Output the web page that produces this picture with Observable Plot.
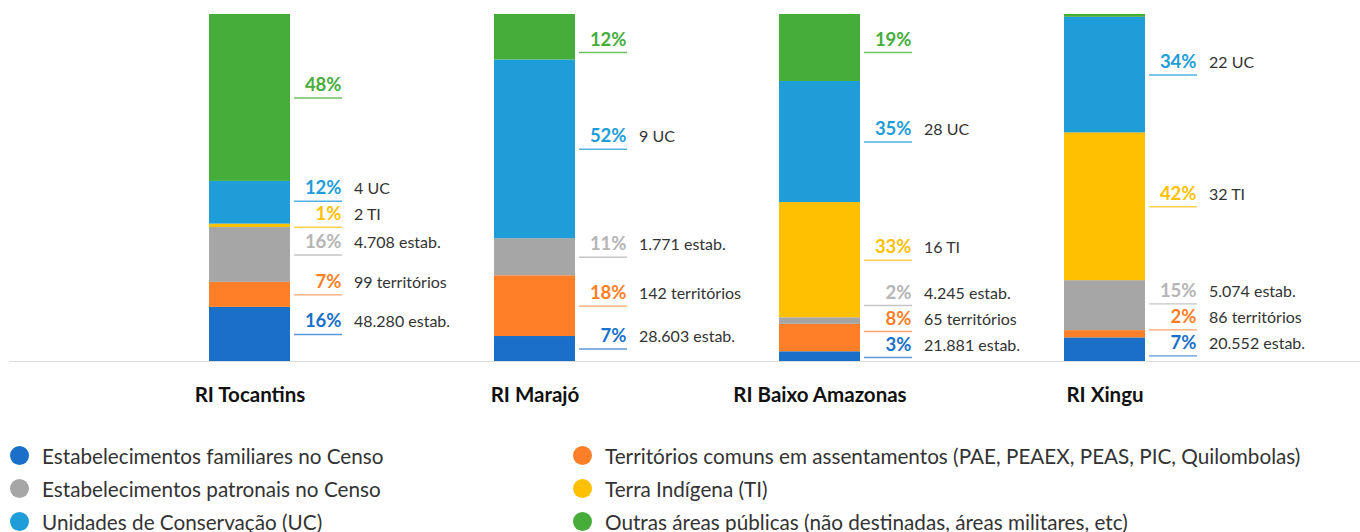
<!DOCTYPE html>
<html>
<head>
<meta charset="utf-8">
<script src="https://cdn.jsdelivr.net/npm/d3@7"></script>
<script src="https://cdn.jsdelivr.net/npm/@observablehq/plot@0.6"></script>
<style>
  body { margin: 0; background: #fff; font-family: Lato, "Noto Sans", sans-serif; }
  #chart svg { display: block; }
  #chart g[aria-label="x-axis tick label"] text { font-weight: 700; }
  .legend { position: relative; height: 112px; margin-top: 19px; }
  .col { position: absolute; top: 0; }
  .item { display: flex; align-items: center; height: 33px; font-size: 20.7px; color: #333; white-space: nowrap; }
  .sw { width: 19px; height: 19px; border-radius: 50%; margin-right: 13px; flex: none; }
</style>
</head>
<body>
<div id="chart"></div>
<div class="legend" id="legend"></div>
<script>
// ---------- data ----------
const regions = ["RI Tocantins", "RI Marajó", "RI Baixo Amazonas", "RI Xingu"];
const categories = [
  "Estabelecimentos familiares no Censo",
  "Territórios comuns em assentamentos (PAE, PEAEX, PEAS, PIC, Quilombolas)",
  "Estabelecimentos patronais no Censo",
  "Terra Indígena (TI)",
  "Unidades de Conservação (UC)",
  "Outras áreas públicas (não destinadas, áreas militares, etc)"
];
// shares (%) per region, stacked bottom -> top
const familiares  = [15.6,  7.2,  2.8,  6.8];
const territorios = [ 7.2, 17.5,  7.9,  2.1];
const patronais   = [15.8, 10.7,  1.9, 14.4];
const terraInd    = [ 1.0,  0.0, 33.2, 42.6];
const unidadesUC  = [12.3, 51.5, 34.9, 33.3];
const outras      = [48.1, 13.1, 19.3,  0.8];
// printed percentages
const pctFamiliares  = [16, 7, 3, 7];
const pctTerritorios = [7, 18, 8, 2];
const pctPatronais   = [16, 11, 2, 15];
const pctTerraInd    = [1, null, 33, 42];
const pctUC          = [12, 52, 35, 34];
const pctOutras      = [48, 12, 19, null];
// printed descriptions
const descFamiliares  = ["48.280 estab.", "28.603 estab.", "21.881 estab.", "20.552 estab."];
const descTerritorios = ["99 territórios", "142 territórios", "65 territórios", "86 territórios"];
const descPatronais   = ["4.708 estab.", "1.771 estab.", "4.245 estab.", "5.074 estab."];
const descTerraInd    = ["2 TI", null, "16 TI", "32 TI"];
const descUC          = ["4 UC", "9 UC", "28 UC", "22 UC"];
const descOutras      = [null, null, null, null];

// ---------- styles ----------
const barColors  = ["#1a70c9", "#fe7f27", "#a6a6a6", "#fec000", "#1e9dd8", "#46ad3b"];
const pctColors  = ["#1a70c9", "#fe7f27", "#b5b5b5", "#fec000", "#1e9dd8", "#46ad3b"];
const lineColors = ["#5b98da", "#fea36b", "#c4c4c4", "#fed04d", "#4fb2e1", "#6fbf65"];
const legendOrder = [[0, 2, 4], [1, 3, 5]];

const shares = [familiares, territorios, patronais, terraInd, unidadesUC, outras];
const pcts = [pctFamiliares, pctTerritorios, pctPatronais, pctTerraInd, pctUC, pctOutras];
const descs = [descFamiliares, descTerritorios, descPatronais, descTerraInd, descUC, descOutras];

// ---------- layout ----------
const W = 1360, H = 420, mTop = 14, mBottom = 59;
const pxPerUnit = (H - mBottom - mTop) / 100;

const rows = [];
const labels = [];
regions.forEach((r, j) => {
  let y0 = 0;
  const regLabels = [];
  categories.forEach((c, i) => {
    const v = shares[i][j];
    rows.push({region: r, cat: c, value: v});
    if (pcts[i][j] != null) {
      regLabels.push({region: r, ci: i, pct: pcts[i][j], desc: descs[i][j], anchor: y0 + v / 2});
    }
    y0 += v;
  });
  // dodge labels so they don't overlap
  const gap = 26 / pxPerUnit, lo = 4 / pxPerUnit, hi = (H - mBottom - 52) / pxPerUnit;
  for (let k = 0; k < 300; k++) {
    for (let a = 0; a < regLabels.length - 1; a++) {
      const d = regLabels[a + 1].anchor - regLabels[a].anchor;
      if (d < gap) {
        const s = (gap - d) / 2;
        regLabels[a].anchor -= s;
        regLabels[a + 1].anchor += s;
      }
    }
    regLabels.forEach(l => { l.anchor = Math.max(lo, Math.min(hi, l.anchor)); });
  }
  labels.push(...regLabels);
});

const marks = [
  Plot.ruleY([0], {stroke: "#dcdcdc", strokeWidth: 1.2}),
  Plot.barY(rows, {x: "region", y: "value", fill: "cat"}),
  Plot.axisX({tickSize: 0, tickPadding: 26, fontSize: 20.5, fill: "#111"})
];
categories.forEach((c, i) => {
  const L = labels.filter(d => d.ci === i);
  marks.push(
    Plot.tickY(L, {x: "region", y: "anchor", dx: 85, insetRight: 33, stroke: lineColors[i], strokeWidth: 1.4}),
    Plot.text(L, {x: "region", y: "anchor", text: d => d.pct + "%", fill: pctColors[i],
      textAnchor: "end", lineAnchor: "bottom", dx: 91.5, dy: -7, fontSize: 18.5, fontWeight: 700}),
    Plot.text(L.filter(d => d.desc), {x: "region", y: "anchor", text: "desc", fill: "#333",
      textAnchor: "start", lineAnchor: "bottom", dx: 104, dy: -7, fontSize: 16})
  );
});

const chart = Plot.plot({
  width: W, height: H,
  marginTop: mTop, marginBottom: mBottom, marginLeft: 9, marginRight: 0,
  style: {fontFamily: "Lato, 'Noto Sans', sans-serif", background: "#fff"},
  x: {type: "band", domain: regions, paddingInner: 0.716, paddingOuter: 0.725, align: 0.481, label: null},
  y: {domain: [0, 100], axis: null},
  color: {domain: categories, range: barColors},
  marks
});
document.getElementById("chart").appendChild(chart);

// ---------- legend ----------
const leg = document.getElementById("legend");
const colX = [10, 573];
legendOrder.forEach((col, ci) => {
  const div = document.createElement("div");
  div.className = "col";
  div.style.left = colX[ci] + "px";
  col.forEach(i => {
    const it = document.createElement("div");
    it.className = "item";
    const sw = document.createElement("span");
    sw.className = "sw";
    sw.style.background = barColors[i];
    const tx = document.createElement("span");
    tx.textContent = categories[i];
    it.appendChild(sw); it.appendChild(tx);
    div.appendChild(it);
  });
  leg.appendChild(div);
});
</script>
</body>
</html>
